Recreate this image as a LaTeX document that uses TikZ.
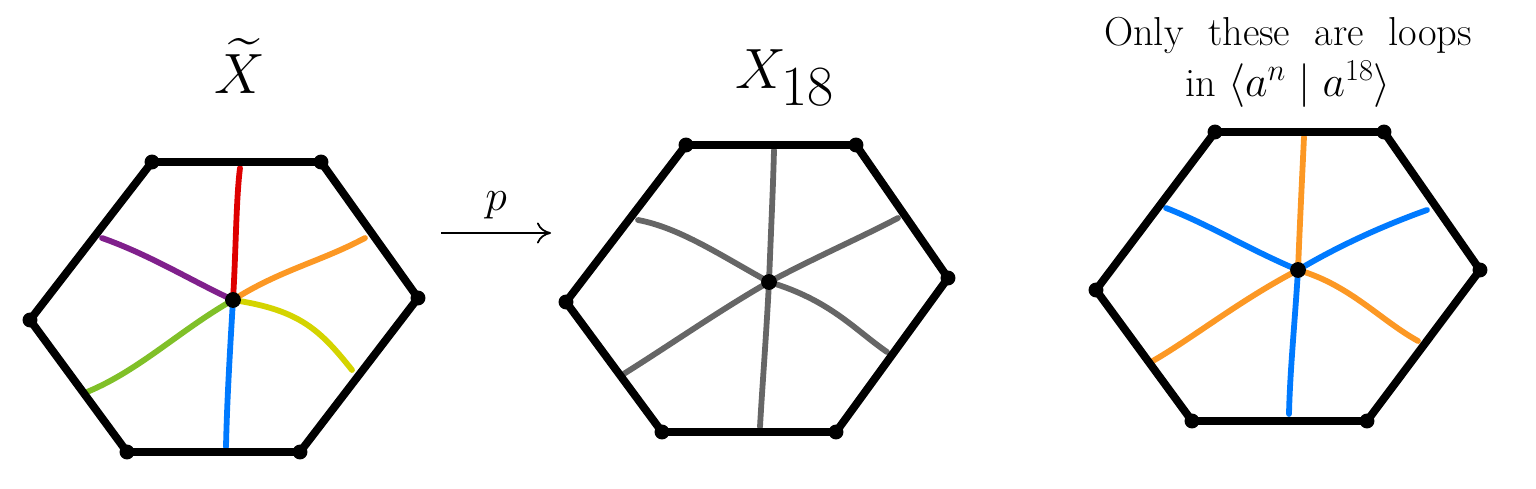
\documentclass[tikz,border=0pt]{standalone}
\usepackage{amsmath}
\usetikzlibrary{arrows.meta}
\definecolor{cred}{RGB}{222,0,0}
\definecolor{cpurple}{RGB}{128,32,140}
\definecolor{corange}{RGB}{252,152,36}
\definecolor{clime}{RGB}{212,212,0}
\definecolor{cgreen}{RGB}{128,192,40}
\definecolor{cblue}{RGB}{0,122,255}
\definecolor{cgray}{RGB}{102,102,102}
\tikzset{
  hexedge/.style={line width=4.5pt, line join=round, line cap=round},
  spoke/.style={line width=3.3pt, line cap=round},
  vdot/.style={circle, fill=black, inner sep=0pt, minimum size=8.5pt},
  cdot/.style={circle, fill=black, inner sep=0pt, minimum size=9pt},
  title/.style={scale=1.3, font=\fontsize{44}{48}\selectfont},
}
\begin{document}
\begin{tikzpicture}[x=0.02cm, y=-0.02cm]
\useasboundingbox (0,0) rectangle (1536,489);
% ---------- left hexagon ----------
\coordinate (a1) at (152,162); \coordinate (a2) at (321,162); \coordinate (a3) at (418,298);
\coordinate (a4) at (300,452); \coordinate (a5) at (127,452); \coordinate (a6) at (30,320);
\coordinate (ac) at (233,300);
\coordinate (ar) at (240,168); \coordinate (ap) at (102,238); \coordinate (ao) at (365,238);
\coordinate (ay) at (352,370); \coordinate (ag) at (87,392); \coordinate (ab) at (226,447);
\draw[spoke, cred] (ac) .. controls (236,250) and (236,200) .. (ar);
\draw[spoke, cpurple] (ac) .. controls (190,280) and (150,255) .. (ap);
\draw[spoke, corange] (ac) .. controls (280,270) and (320,262) .. (ao);
\draw[spoke, clime] (ac) .. controls (300,310) and (320,330) .. (ay);
\draw[spoke, cgreen] (ac) .. controls (180,330) and (140,370) .. (ag);
\draw[spoke, cblue] (ac) .. controls (230,350) and (227,400) .. (ab);
\draw[hexedge] (a1) -- (a2) -- (a3) -- (a4) -- (a5) -- (a6) -- cycle;
\foreach \v in {a1,a2,a3,a4,a5,a6} \node[vdot] at (\v) {};
\node[cdot] (acn) at (ac) {};
\node[title] (t1) at (240,66) {$\widetilde{X}$};
% ---------- arrow ----------
\coordinate (p1) at (441,233); \coordinate (p2) at (551,233);
\draw[line width=1pt, -{To[length=8pt,width=12pt]}] (p1) -- node[above=4pt] {\fontsize{26}{28}\selectfont $p$} (p2);
% ---------- middle hexagon ----------
\coordinate (b1) at (686,145); \coordinate (b2) at (856,145); \coordinate (b3) at (948,278);
\coordinate (b4) at (836,432); \coordinate (b5) at (662,432); \coordinate (b6) at (566,302);
\coordinate (bc) at (769,282);
\coordinate (bt) at (774,150); \coordinate (bl) at (638,220); \coordinate (br) at (898,218);
\coordinate (bd) at (887,352); \coordinate (bll) at (622,375); \coordinate (bb) at (760,427);
\draw[spoke, cgray] (bc) .. controls (771,230) and (773,190) .. (bt);
\draw[spoke, cgray] (bc) .. controls (720,255) and (680,228) .. (bl);
\draw[spoke, cgray] (bc) .. controls (820,255) and (860,238) .. (br);
\draw[spoke, cgray] (bc) .. controls (830,300) and (855,330) .. (bd);
\draw[spoke, cgray] (bc) .. controls (720,310) and (670,345) .. (bll);
\draw[spoke, cgray] (bc) .. controls (766,340) and (762,390) .. (bb);
\draw[hexedge] (b1) -- (b2) -- (b3) -- (b4) -- (b5) -- (b6) -- cycle;
\foreach \v in {b1,b2,b3,b4,b5,b6} \node[vdot] at (\v) {};
\node[cdot] (bcn) at (bc) {};
\node[title] (t2) at (785,78) {$X_{18}$};
% ---------- right hexagon ----------
\coordinate (c1) at (1215,132); \coordinate (c2) at (1384,132); \coordinate (c3) at (1480,270);
\coordinate (c4) at (1367,421); \coordinate (c5) at (1192,421); \coordinate (c6) at (1096,290);
\coordinate (cc) at (1298,270);
\coordinate (ct) at (1304,137); \coordinate (cl) at (1166,208); \coordinate (cr) at (1427,210);
\coordinate (cd) at (1418,341); \coordinate (cll) at (1151,362); \coordinate (cb) at (1289,414);
\draw[spoke, corange] (cc) .. controls (1300,220) and (1302,180) .. (ct);
\draw[spoke, cblue] (cc) .. controls (1250,250) and (1210,225) .. (cl);
\draw[spoke, cblue] (cc) .. controls (1340,245) and (1385,225) .. (cr);
\draw[spoke, corange] (cc) .. controls (1350,285) and (1380,320) .. (cd);
\draw[spoke, corange] (cc) .. controls (1240,300) and (1190,340) .. (cll);
\draw[spoke, cblue] (cc) .. controls (1295,320) and (1290,370) .. (cb);
\draw[hexedge] (c1) -- (c2) -- (c3) -- (c4) -- (c5) -- (c6) -- cycle;
\foreach \v in {c1,c2,c3,c4,c5,c6} \node[vdot] at (\v) {};
\node[cdot] (ccn) at (cc) {};
\node[align=center, font=\fontsize{23}{29}\selectfont] (t3) at (1288,62)
  {Only \ these \ are \ loops\\in $\langle a^{n} \mid a^{18}\rangle$};
\end{tikzpicture}
\end{document}
